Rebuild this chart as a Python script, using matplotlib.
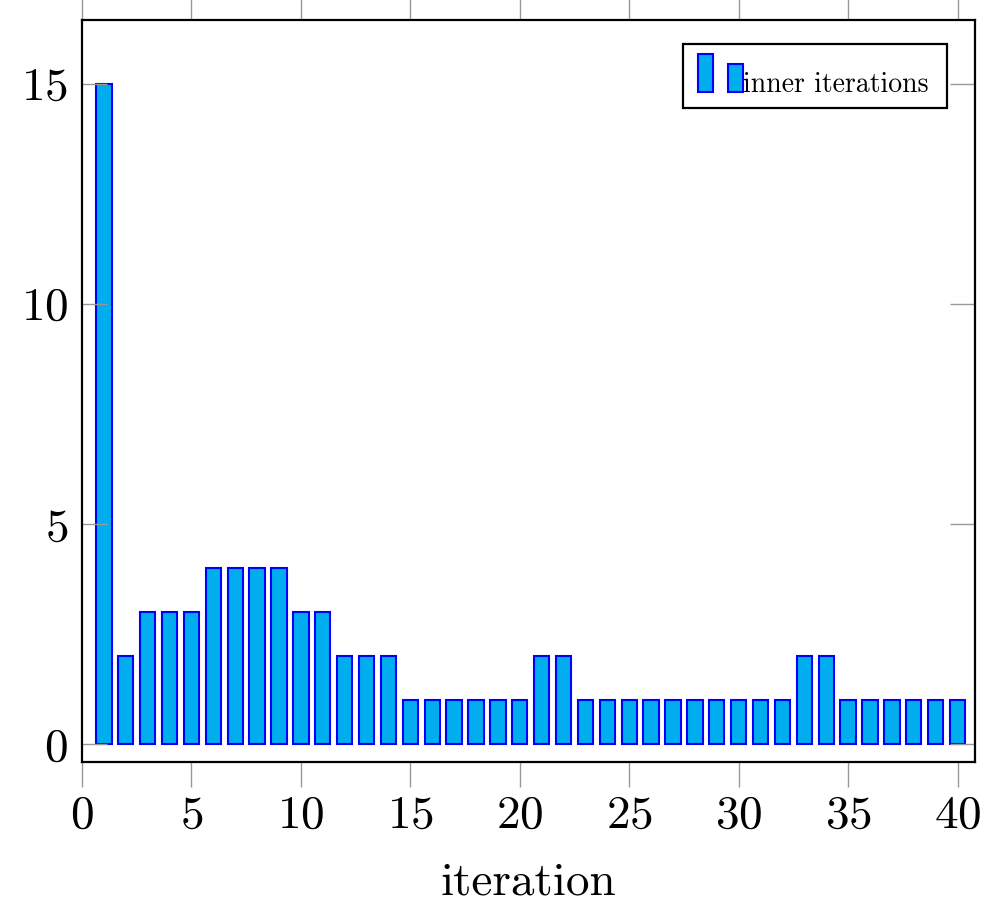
import matplotlib
matplotlib.use("Agg")
import matplotlib.pyplot as plt
from matplotlib.patches import Rectangle
from matplotlib.legend_handler import HandlerBase
from matplotlib.offsetbox import DrawingArea

plt.rcParams['font.family'] = ['cmr10', 'DejaVu Serif']
plt.rcParams['mathtext.fontset'] = 'cm'
plt.rcParams['axes.formatter.use_mathtext'] = True

iterations = list(range(1, 41))
inner = [15, 2, 3, 3, 3, 4, 4, 4, 4, 3,
         3, 2, 2, 2, 1, 1, 1, 1, 1, 1,
         2, 2, 1, 1, 1, 1, 1, 1, 1, 1,
         1, 1, 2, 2, 1, 1, 1, 1, 1, 1]
xticks = [0, 5, 10, 15, 20, 25, 30, 35, 40]
yticks = [0, 5, 10, 15]

face = '#00AEEF'
edge = '#0000FF'
lead = 4  # extra room (pt) left of the legend image


class TwoBars(HandlerBase):
    # pgfplots style ybar legend image: two little bars sitting on the baseline
    def create_artists(self, legend, orig, xd, yd, w, h, fontsize, trans):
        bw = w * 0.34
        x0 = -xd + lead
        r1 = Rectangle((x0, 0), bw, fontsize * 1.37, facecolor=face,
                       edgecolor=edge, lw=1.5, transform=trans)
        r2 = Rectangle((x0 + w * 0.66, 0), bw, fontsize * 1.04, facecolor=face,
                       edgecolor=edge, lw=1.5, transform=trans)
        return [r1, r2]


def walk(box):
    yield box
    for c in box.get_children():
        yield from walk(c)


fig = plt.figure(figsize=(9.95, 9.14), dpi=100)
ax = fig.add_axes([0.0824, 0.1663, 0.8976, 0.8117])

bars = ax.bar(iterations, inner, width=0.7, color=face, edgecolor=edge,
              linewidth=1.5, label='inner iterations')

ax.set_xlim(0, 40.8)
ax.set_ylim(-0.41, 16.45)
ax.set_xticks(xticks)
ax.set_yticks(yticks)
ax.tick_params(axis='x', direction='out', top=True, bottom=True, length=18,
               width=1, color='#999999', labelsize=34, pad=6)
ax.tick_params(axis='y', direction='in', left=True, right=True, length=18,
               width=1, color='#999999', labelsize=34, pad=10)
for s in ax.spines.values():
    s.set_linewidth(1.6)
ax.set_xlabel('iteration', fontsize=34, labelpad=18)

leg = ax.legend(handles=[bars], labels=['inner iterations '],
                handler_map={type(bars): TwoBars()}, loc='upper right',
                bbox_to_anchor=(0.969, 0.968), fontsize=20, fancybox=False,
                framealpha=1, edgecolor='black', borderpad=0.35,
                handlelength=1.6, handletextpad=0.0, borderaxespad=0)
leg.get_frame().set_linewidth(1.6)
# let the legend box make room for the taller handle
for b in walk(leg._legend_box):
    if isinstance(b, DrawingArea):
        b.height = 20 * 1.4
        b.ydescent = 0
        b.width = b.width + lead

fig.savefig('out.png', dpi=100)
